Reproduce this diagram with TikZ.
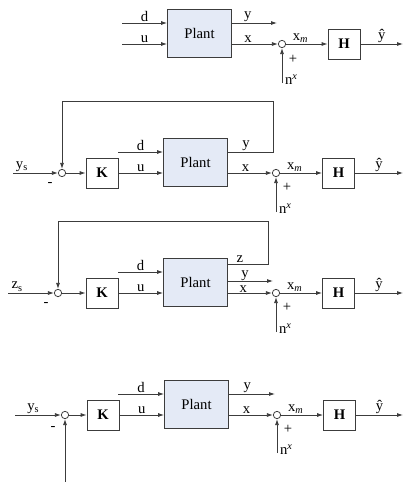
\documentclass[tikz,border=0pt]{standalone}
\usepackage{fontspec}
\setmainfont{Liberation Serif}
\usetikzlibrary{arrows.meta,calc}
\definecolor{plantfill}{RGB}{228,234,246}
\definecolor{wirecol}{RGB}{60,60,60}
\tikzset{
  plantbox/.style={draw=wirecol, fill=plantfill, line width=0.6pt, minimum width=48pt, minimum height=36pt, inner sep=0pt},
  gainbox/.style={draw=wirecol, fill=white, line width=0.6pt, minimum width=24pt, minimum height=22.5pt, inner sep=0pt, font=\fontsize{11}{13}\selectfont\bfseries},
  sumnode/.style={draw=wirecol, circle, line width=0.6pt, minimum size=5.5pt, inner sep=0pt, fill=white},
  sig/.style={->, draw=wirecol, line width=0.6pt},
  lbl/.style={above, inner sep=1pt}
}
\begin{document}
\begin{tikzpicture}[x=0.75pt, y=-0.75pt, >={Latex[length=4.5pt,width=3pt]}, font=\fontsize{11}{13}\selectfont]
    \useasboundingbox (0,0) rectangle (403,482);

    % open loop
    \node[plantbox] (plant1) at (199.5,33.5) {Plant};
    \node[sumnode] (sumR1) at (282,44) {};
    \node[gainbox] (H1) at (344,44) {H};
    \coordinate (d1) at (122,23);
    \coordinate (u1) at (122,44);
    \coordinate (y1) at (277,23);
    \coordinate (yh1) at (403,44);
    \coordinate (n1) at (282,83);

    \draw[sig] (d1) -- node[lbl]{d} (d1 -| plant1.west);
    \draw[sig] (u1) -- node[lbl]{u} (u1 -| plant1.west);
    \draw[sig] (y1 -| plant1.east) -- node[lbl, pos=0.35]{y} (y1);
    \draw[sig] (sumR1 -| plant1.east) -- node[lbl, pos=0.35]{x} (sumR1.west);
    \draw[sig] (sumR1.east) -- node[lbl, pos=0.35]{x\textsubscript{\textit{m}}} (H1.west);
    \draw[sig] (H1.east) -- node[lbl]{ŷ} (yh1);
    \draw[sig] (n1) -- node[right, pos=0.1, inner sep=2pt]{n\textsuperscript{\textit{x}}} (sumR1.south);
    \node (plus1) at ($(sumR1)+(11,15)$) {+};

    % feedback on y
    \node[sumnode] (sumL2) at (62,173) {};
    \node[gainbox] (K2) at (102,173) {K};
    \node[plantbox] (plant2) at (195.5,162.5) {Plant};
    \node[sumnode] (sumR2) at (276,173) {};
    \node[gainbox] (H2) at (338.5,173) {H};
    \coordinate (r2) at (13,173);
    \coordinate (d2) at (118,152);
    \coordinate (top2) at (273,101);
    \coordinate (yh2) at (403,173);
    \coordinate (n2) at (276,212);

    \draw[sig] (r2) -- node[lbl, pos=0.2]{y\textsubscript{s}} (sumL2.west);
    \node (minus2) at ($(sumL2)+(-12,11)$) {-};
    \draw[sig] (sumL2.east) -- (K2.west);
    \draw[sig] (K2.east) -- node[lbl]{u} (K2.east -| plant2.west);
    \draw[sig] (d2) -- node[lbl]{d} (d2 -| plant2.west);
    \draw[sig] (d2 -| plant2.east) -- node[lbl, pos=0.4]{y} (d2 -| top2) |- (top2 -| sumL2) -- (sumL2.north);
    \draw[sig] (sumR2 -| plant2.east) -- node[lbl, pos=0.4]{x} (sumR2.west);
    \draw[sig] (sumR2.east) -- node[lbl, pos=0.35]{x\textsubscript{\textit{m}}} (H2.west);
    \draw[sig] (H2.east) -- node[lbl]{ŷ} (yh2);
    \draw[sig] (n2) -- node[right, pos=0.1, inner sep=2pt]{n\textsuperscript{\textit{x}}} (sumR2.south);
    \node (plus2) at ($(sumR2)+(11,14)$) {+};

    % feedback on z
    \node[sumnode] (sumL3) at (58,293) {};
    \node[gainbox] (K3) at (102,293) {K};
    \node[plantbox] (plant3) at (195.5,282.5) {Plant};
    \node[sumnode] (sumR3) at (276,293) {};
    \node[gainbox] (H3) at (338.5,293) {H};
    \coordinate (r3) at (8,293);
    \coordinate (d3) at (118,272);
    \coordinate (z3) at (268,264);
    \coordinate (top3) at (268,221);
    \coordinate (y3) at (273,281);
    \coordinate (yh3) at (403,293);
    \coordinate (n3) at (276,332);

    \draw[sig] (r3) -- node[lbl, pos=0.2]{z\textsubscript{s}} (sumL3.west);
    \node (minus3) at ($(sumL3)+(-12,11)$) {-};
    \draw[sig] (sumL3.east) -- (K3.west);
    \draw[sig] (K3.east) -- node[lbl]{u} (K3.east -| plant3.west);
    \draw[sig] (d3) -- node[lbl]{d} (d3 -| plant3.west);
    \draw[sig] (z3 -| plant3.east) -- node[lbl, pos=0.3, inner sep=0.5pt]{z} (z3) |- (top3 -| sumL3) -- (sumL3.north);
    \draw[sig] (y3 -| plant3.east) -- node[lbl, pos=0.38, inner sep=0.3pt]{y} (y3);
    \draw[sig] (sumR3 -| plant3.east) -- node[lbl, pos=0.35, inner sep=0.3pt]{x} (sumR3.west);
    \draw[sig] (sumR3.east) -- node[lbl, pos=0.35]{x\textsubscript{\textit{m}}} (H3.west);
    \draw[sig] (H3.east) -- node[lbl]{ŷ} (yh3);
    \draw[sig] (n3) -- node[right, pos=0.1, inner sep=2pt]{n\textsuperscript{\textit{x}}} (sumR3.south);
    \node (plus3) at ($(sumR3)+(11,14)$) {+};

    % loop open at the bottom
    \node[sumnode] (sumL4) at (65,415) {};
    \node[gainbox] (K4) at (103,415) {K};
    \node[plantbox] (plant4) at (196.5,404.5) {Plant};
    \node[sumnode] (sumR4) at (277,415) {};
    \node[gainbox] (H4) at (339.5,415) {H};
    \coordinate (r4) at (15,415);
    \coordinate (d4) at (118,394);
    \coordinate (y4) at (275,394);
    \coordinate (b4) at (65,482);
    \coordinate (yh4) at (403,415);
    \coordinate (n4) at (277,453);

    \draw[sig] (r4) -- node[lbl, pos=0.4]{y\textsubscript{s}} (sumL4.west);
    \node (minus4) at ($(sumL4)+(-12,13)$) {-};
    \draw[sig] (b4) -- (sumL4.south);
    \draw[sig] (sumL4.east) -- (K4.west);
    \draw[sig] (K4.east) -- node[lbl]{u} (K4.east -| plant4.west);
    \draw[sig] (d4) -- node[lbl]{d} (d4 -| plant4.west);
    \draw[sig] (y4 -| plant4.east) -- node[lbl, pos=0.4]{y} (y4);
    \draw[sig] (sumR4 -| plant4.east) -- node[lbl, pos=0.4]{x} (sumR4.west);
    \draw[sig] (sumR4.east) -- node[lbl, pos=0.35]{x\textsubscript{\textit{m}}} (H4.west);
    \draw[sig] (H4.east) -- node[lbl]{ŷ} (yh4);
    \draw[sig] (n4) -- node[right, pos=0.1, inner sep=2pt]{n\textsuperscript{\textit{x}}} (sumR4.south);
    \node (plus4) at ($(sumR4)+(11,14)$) {+};
\end{tikzpicture}
\end{document}
